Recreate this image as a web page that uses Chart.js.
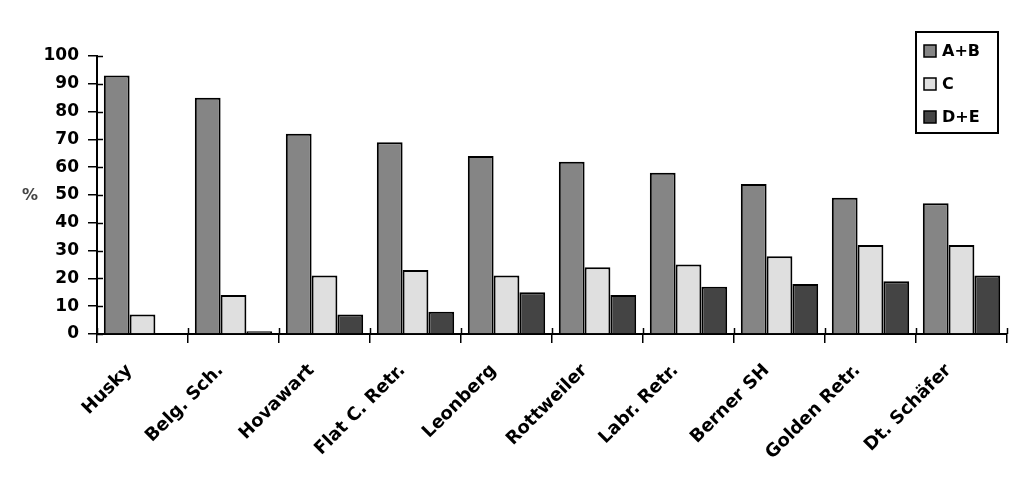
<!DOCTYPE html>
<html>
<head>
<meta charset="utf-8">
<script src="https://cdn.jsdelivr.net/npm/chart.js@4.4.1/dist/chart.umd.min.js"></script>
<style>
  html, body { margin: 0; padding: 0; background: #fff; }
  #chart { display: block; }
</style>
</head>
<body>
<canvas id="chart" width="1016" height="503"></canvas>
<script>
// ===== Daten =====
const breeds = ["Husky", "Belg. Sch.", "Hovawart", "Flat C. Retr.", "Leonberg",
  "Rottweiler", "Labr. Retr.", "Berner SH", "Golden Retr.", "Dt. Schäfer"];
const seriesNames = ["A+B", "C", "D+E"];
const valuesAB = [93, 85, 72, 69, 64, 62, 58, 54, 49, 47];
const valuesC = [7, 14, 21, 23, 21, 24, 25, 28, 32, 32];
const valuesDE = [0, 1, 7, 8, 15, 14, 17, 18, 19, 21];
const yTicks = [0, 10, 20, 30, 40, 50, 60, 70, 80, 90, 100];

const colors = ["#858585", "#dfdfdf", "#444444"];
const FONT = "'DejaVu Sans', 'Liberation Sans', Arial, sans-serif";

// ===== Plugin: innere Tick-Striche, "%" und Legende mit Rahmen =====
const extras = {
  id: "extras",
  afterDraw(chart) {
    const ctx = chart.ctx;
    const { y } = chart.scales;
    const area = chart.chartArea;
    ctx.save();
    ctx.strokeStyle = "#000";
    ctx.lineWidth = 1.5;
    // Y: Striche nach innen
    yTicks.forEach(v => {
      const py = Math.round(y.getPixelForValue(v)) + 0.5;
      ctx.beginPath();
      ctx.moveTo(area.left, py);
      ctx.lineTo(area.left + 6, py);
      ctx.stroke();
    });
    // X: Striche nach oben an Kategoriegrenzen
    for (let i = 0; i <= breeds.length; i++) {
      const px = Math.round(area.left + (area.right - area.left) * i / breeds.length) + 0.5;
      ctx.beginPath();
      ctx.moveTo(px, area.bottom);
      ctx.lineTo(px, area.bottom - 6);
      ctx.stroke();
    }
    // "%" Beschriftung
    ctx.fillStyle = "#444";
    ctx.font = "bold 16px " + FONT;
    ctx.textAlign = "center";
    ctx.textBaseline = "middle";
    ctx.fillText("%", 30, 196);

    // Legende
    const bx = 916, by = 32, bw = 82, bh = 101;
    ctx.lineWidth = 2;
    ctx.strokeRect(bx, by, bw, bh);
    ctx.font = "bold 16px " + FONT;
    ctx.textAlign = "left";
    chart.data.datasets.forEach((ds, i) => {
      const cy = 51 + i * 33;
      ctx.fillStyle = ds.backgroundColor;
      ctx.fillRect(924, cy - 6, 12, 12);
      ctx.lineWidth = 1.5;
      ctx.strokeRect(924, cy - 6, 12, 12);
      ctx.fillStyle = "#000";
      ctx.fillText(ds.label, 942, cy + 1);
    });
    ctx.restore();
  }
};

const ctx = document.getElementById("chart").getContext("2d");
new Chart(ctx, {
  type: "bar",
  data: {
    labels: breeds,
    datasets: [valuesAB, valuesC, valuesDE].map((vals, i) => ({
      label: seriesNames[i],
      data: vals,
      backgroundColor: colors[i],
      borderColor: "#000",
      borderWidth: 2,
      categoryPercentage: 0.85,
      barPercentage: 1.0
    }))
  },
  options: {
    responsive: false,
    animation: false,
    devicePixelRatio: 1,
    layout: { padding: { top: 56, right: 9, left: 0, bottom: 0 } },
    plugins: {
      legend: { display: false },
      tooltip: { enabled: false }
    },
    scales: {
      x: {
        grid: {
          display: true,
          drawOnChartArea: false,
          color: "#000",
          tickLength: 9,
          lineWidth: 1.5
        },
        border: { display: true, color: "#000", width: 2 },
        ticks: {
          color: "#000",
          font: { family: FONT, size: 18, weight: "bold" },
          minRotation: 45,
          maxRotation: 45,
          padding: 17,
          labelOffset: -13,
          autoSkip: false
        },
        afterFit(scale) { scale.height = 169; }
      },
      y: {
        min: 0,
        max: 100,
        afterBuildTicks(scale) { scale.ticks = yTicks.map(v => ({ value: v })); },
        grid: {
          display: true,
          drawOnChartArea: false,
          color: "#000",
          tickLength: 9,
          lineWidth: 1.5
        },
        border: { display: true, color: "#000", width: 2 },
        ticks: {
          color: "#000",
          font: { family: FONT, size: 17, weight: "bold" },
          padding: 9
        },
        afterFit(scale) { scale.width = 97; }
      }
    }
  },
  plugins: [extras]
});
</script>
</body>
</html>
